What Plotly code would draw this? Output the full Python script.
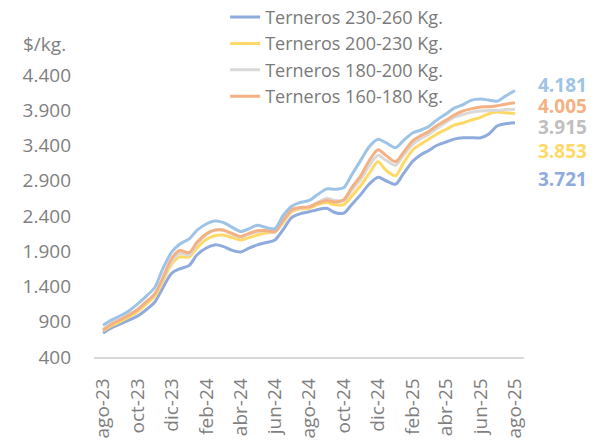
import pandas as pd
import plotly.graph_objects as go

# semi-monthly observations, ago-23 .. ago-25
dates = pd.date_range("2023-08-01", "2025-08-01", freq="SMS")

terneros_top = [850, 920, 985, 1050, 1150, 1250, 1390, 1650, 1890, 2000, 2075, 2200, 2290,
                2330, 2310, 2250, 2180, 2215, 2270, 2240, 2220, 2400, 2540, 2590, 2620,
                2700, 2785, 2780, 2800, 2980, 3200, 3380, 3490, 3440, 3370, 3470, 3580,
                3620, 3670, 3760, 3850, 3930, 3980, 4040, 4060, 4045, 4030, 4100, 4181]
terneros_160_180 = [780, 860, 930, 990, 1070, 1170, 1300, 1520, 1800, 1910, 1880, 2030, 2150,
                    2200, 2200, 2160, 2110, 2150, 2190, 2195, 2180, 2330, 2490, 2520, 2530,
                    2580, 2620, 2600, 2630, 2800, 2980, 3180, 3340, 3260, 3170, 3300, 3470,
                    3540, 3600, 3680, 3760, 3830, 3890, 3920, 3945, 3950, 3965, 3985, 4005]
terneros_180_200 = [790, 865, 935, 995, 1075, 1170, 1290, 1500, 1760, 1870, 1850, 2010, 2140,
                    2200, 2200, 2150, 2100, 2140, 2180, 2190, 2170, 2320, 2480, 2510, 2530,
                    2590, 2650, 2620, 2620, 2760, 2930, 3110, 3260, 3190, 3120, 3260, 3420,
                    3500, 3560, 3640, 3730, 3800, 3840, 3870, 3890, 3895, 3900, 3910, 3915]
terneros_200_230 = [770, 840, 905, 965, 1040, 1140, 1260, 1470, 1720, 1820, 1820, 1950, 2070,
                    2120, 2130, 2100, 2060, 2090, 2130, 2160, 2175, 2300, 2460, 2500, 2510,
                    2560, 2590, 2560, 2560, 2680, 2840, 3000, 3170, 3050, 2970, 3150, 3340,
                    3420, 3490, 3560, 3630, 3690, 3720, 3760, 3800, 3850, 3875, 3865, 3853]
terneros_230_260 = [740, 810, 870, 920, 980, 1060, 1180, 1380, 1590, 1650, 1700, 1850, 1950,
                    1990, 1970, 1920, 1890, 1940, 1990, 2020, 2060, 2200, 2380, 2430, 2460,
                    2490, 2510, 2450, 2440, 2560, 2710, 2850, 2950, 2900, 2850, 3000, 3180,
                    3270, 3330, 3400, 3450, 3490, 3510, 3510, 3510, 3560, 3680, 3710, 3721]

tick_dates = pd.date_range("2023-08-01", "2025-08-01", freq="2MS")
tick_labels = ["ago-23", "oct-23", "dic-23", "feb-24", "abr-24", "jun-24", "ago-24",
               "oct-24", "dic-24", "feb-25", "abr-25", "jun-25", "ago-25"]

# (name, values, line colour, label colour, label yshift, in legend)
series = [
    ("Terneros 230-260 Kg.", terneros_230_260, "#8faadc", "#8faadc", -56, True),
    ("Terneros 200-230 Kg.", terneros_200_230, "#ffd966", "#ffd966", -37, True),
    ("Terneros 180-200 Kg.", terneros_180_200, "#d9d9d9", "#bfbfbf", -18, True),
    ("Terneros 160-180 Kg.", terneros_160_180, "#f4b183", "#f4b183", -3, True),
    ("Terneros hasta 160 Kg.", terneros_top, "#9dc3e6", "#9dc3e6", 5, False),
]

fig = go.Figure()
for name, vals, col, lcol, shift, show in series:
    fig.add_trace(go.Scatter(x=dates, y=vals, name=name, mode="lines", showlegend=show,
                             line=dict(color=col, width=3, shape="spline", smoothing=0.8)))
    fig.add_annotation(x=dates[-1], y=vals[-1], text=f"<b>{vals[-1]:,}</b>".replace(",", "."),
                       showarrow=False, xanchor="left", yanchor="middle", xshift=21, yshift=shift,
                       font=dict(size=19, color=lcol, family="Open Sans"))

fig.add_annotation(xref="paper", yref="paper", x=-0.06, y=1.11, text="$/kg.", showarrow=False,
                   xanchor="right", yanchor="middle", font=dict(size=19, color="#7f7f7f"))

fig.update_layout(
    width=594, height=445,
    margin=dict(l=94, r=70, t=75, b=88, autoexpand=False),
    paper_bgcolor="white", plot_bgcolor="white",
    font=dict(family="Open Sans", color="#7f7f7f"),
    separators=",.",
    legend=dict(x=0.305, y=1.27, xanchor="left", yanchor="top",
                font=dict(size=18, color="#7a7a7a"), bgcolor="rgba(0,0,0,0)",
                tracegroupgap=0, itemwidth=30),
    xaxis=dict(type="date", range=["2023-07-16", "2025-08-17"], tickvals=tick_dates,
               ticktext=tick_labels, tickangle=-90, showgrid=False, zeroline=False,
               showline=True, linecolor="#d9d9d9", linewidth=1.5, ticks="",
               tickfont=dict(size=19, color="#7f7f7f"), ticklabelstandoff=12),
    yaxis=dict(range=[400, 4400], tickvals=[400, 900, 1400, 1900, 2400, 2900, 3400, 3900, 4400],
               tickformat=",d", showgrid=False, zeroline=False, showline=False, ticks="",
               tickfont=dict(size=19, color="#7f7f7f"), ticklabelstandoff=22),
)

# drop the default page margin so the figure sits at the window's corner
fig.write_html("out.html", config={"displayModeBar": False},
               post_script="document.body.style.margin='0';")
